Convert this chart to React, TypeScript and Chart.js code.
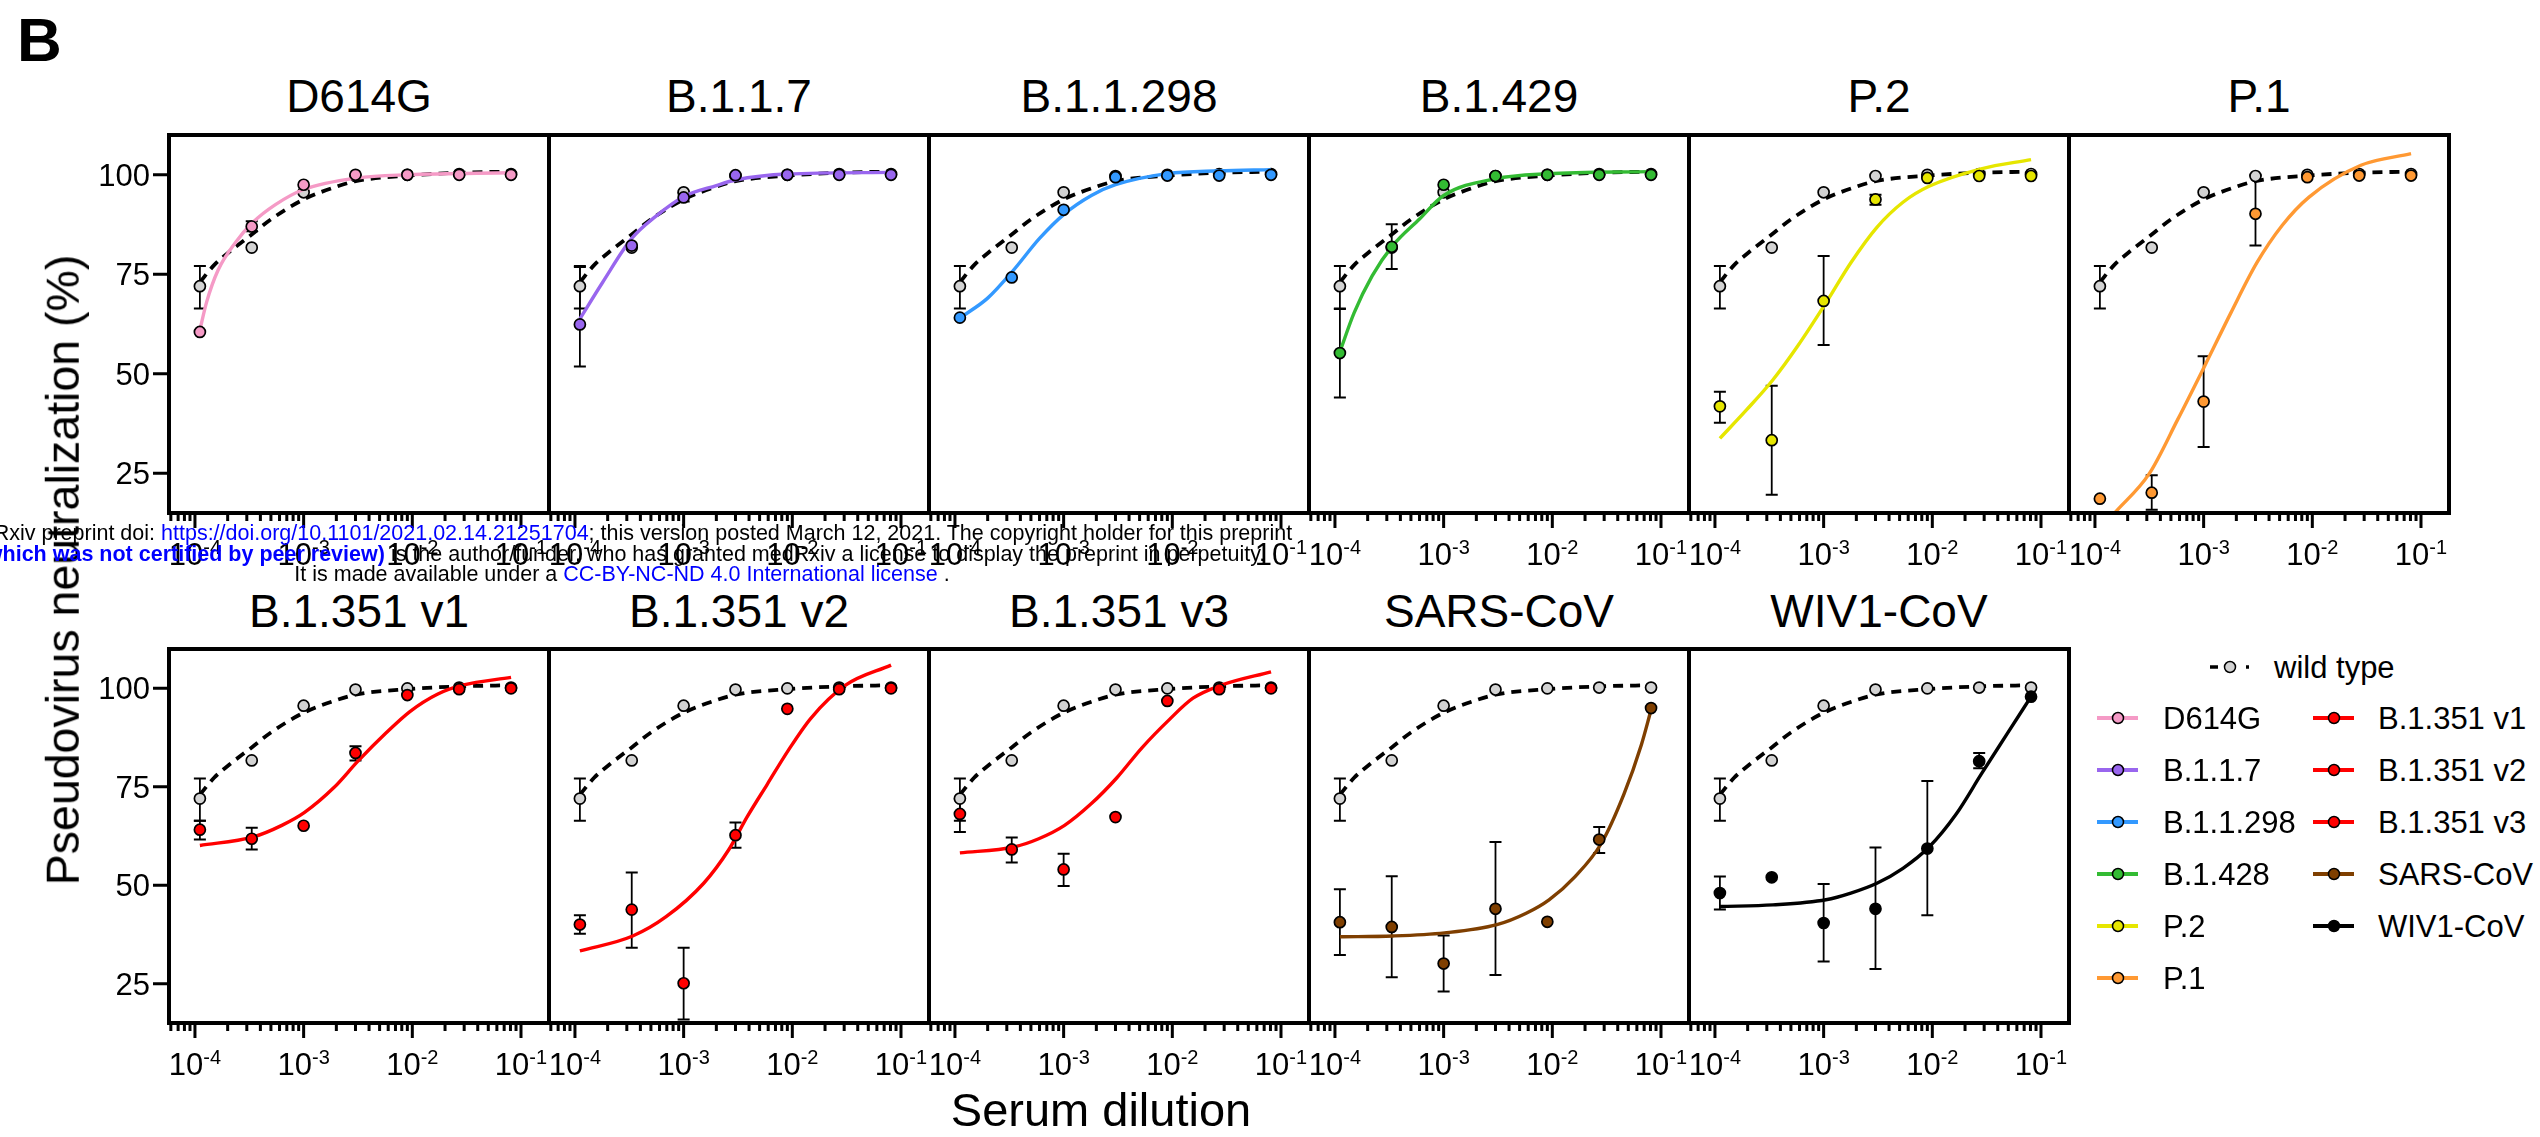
import React, { useEffect, useRef } from 'react';
import { Chart, registerables } from 'chart.js';
Chart.register(...registerables);

const FONT = '"Liberation Sans", Arial, Helvetica, sans-serif';

// ---------------- data ----------------
const dilutions = [1.11e-4, 3.33e-4, 1e-3, 3e-3, 9e-3, 2.7e-2, 8.1e-2];

const wildTypeValues = [72, 81.7, 95.6, 99.7, 100, 100.2, 100.2];
const wildTypeErrLow = [66.4, null, null, null, null, null, null];
const wildTypeErrHigh = [77.1, null, null, null, null, null, null];
const wildTypeFit: [number, number][] = [[1.11e-4, 73], [1.5e-4, 77.3], [2e-4, 80.3], [3.33e-4, 85], [5e-4, 88.8], [1e-3, 93.8], [2e-3, 97], [3e-3, 98.4], [9e-3, 99.8], [2.7e-2, 100.5], [8.1e-2, 100.8]];

const d614gValues = [60.5, 87, 97.5, 100, 100, 100, 100];
const d614gErrLow = [null, 85.8, null, null, null, null, null];
const d614gErrHigh = [null, 88.3, null, null, null, null, null];
const d614gFit: [number, number][] = [[1.11e-4, 61], [1.28e-4, 68], [1.63e-4, 76], [2.36e-4, 83], [3.4e-4, 88], [5.5e-4, 92.5], [1e-3, 96.3], [3.1e-3, 99.2], [9.2e-3, 100], [8.1e-2, 100.5]];

const b117Values = [62.4, 82.2, 94.3, 99.9, 100, 100, 100];
const b117ErrLow = [51.8, null, 93.3, null, null, null, null];
const b117ErrHigh = [76.8, null, 95.5, null, null, null, null];
const b117Fit: [number, number][] = [[1.11e-4, 63.8], [1.8e-4, 73], [3.33e-4, 84], [5.5e-4, 89.5], [1e-3, 94.5], [2e-3, 97.3], [3e-3, 98.7], [9e-3, 100.2], [8.1e-2, 100.6]];

const b11298Values = [64.1, 74.2, 91.2, 99.4, 99.8, 99.8, 100];
const b11298ErrLow = [null, null, null, null, null, null, null];
const b11298ErrHigh = [null, null, null, null, null, null, null];
const b11298Fit: [number, number][] = [[1.11e-4, 64], [2e-4, 69], [3.4e-4, 75.8], [6e-4, 84], [1e-3, 90], [1.8e-3, 94.8], [3e-3, 97.5], [9e-3, 100.3], [2.7e-2, 101], [8.1e-2, 101.3]];

const b1429Values = [55.2, 81.9, 97.5, 99.7, 100, 100, 100];
const b1429ErrLow = [44, 76.3, null, null, null, null, null];
const b1429ErrHigh = [66.3, 87.6, null, null, null, null, null];
const b1429Fit: [number, number][] = [[1.11e-4, 55.5], [1.5e-4, 65.3], [2.2e-4, 74.6], [3.4e-4, 82.2], [6e-4, 88.9], [1e-3, 94.8], [3e-3, 99], [9e-3, 100.25], [8.1e-2, 100.8]];

const p2Values = [41.8, 33.3, 68.3, 93.8, 99.2, 99.7, 99.7];
const p2ErrLow = [37.7, 19.6, 57.2, 92.5, null, null, null];
const p2ErrHigh = [45.5, 47, 79.6, 95, null, null, null];
const p2Fit: [number, number][] = [[1.11e-4, 33.75], [1.95e-4, 40.9], [3.42e-4, 48.5], [5.75e-4, 56.9], [1.05e-3, 67.8], [1.78e-3, 77.9], [3.09e-3, 86.8], [5.37e-3, 93.1], [9.33e-3, 97.1], [2.82e-2, 101.5], [8.1e-2, 103.8]];

const p1Values = [18.6, 20.1, 43, 90.2, 99.4, 99.8, 99.8];
const p1ErrLow = [null, 15.8, 31.6, 82.2, null, null, null];
const p1ErrHigh = [null, 24.5, 54.4, 99.8, null, null, null];
const p1Fit: [number, number][] = [[1.11e-4, 10.5], [1.45e-4, 14.4], [3.16e-4, 24.9], [5.75e-4, 38.4], [1.02e-3, 51.9], [1.78e-3, 65.3], [3.09e-3, 77.9], [5.25e-3, 87.2], [9.33e-3, 94.4], [2.8e-2, 102.4], [8.1e-2, 105.3]];

const b1351v1Values = [64.1, 61.8, 65.1, 83.6, 98.3, 99.8, 100];
const b1351v1ErrLow = [61.6, 59.1, null, 81.7, null, null, null];
const b1351v1ErrHigh = [66.4, 64.6, null, 85.3, null, null, null];
const b1351v1Fit: [number, number][] = [[1.11e-4, 60.1], [3.39e-4, 62.2], [6.3e-4, 65.2], [1.02e-3, 68.5], [1.9e-3, 74.8], [3.16e-3, 81.5], [5.75e-3, 88.7], [9.5e-3, 94.1], [1.7e-2, 98.5], [2.9e-2, 100.8], [8.1e-2, 102.8]];

const b1351v2Values = [40, 43.8, 25.1, 62.7, 94.8, 99.8, 100];
const b1351v2ErrLow = [37.7, 34.1, 15.9, 59.5, null, null, null];
const b1351v2ErrHigh = [42.4, 53.2, 34.1, 65.9, null, null, null];
const b1351v2Fit: [number, number][] = [[1.11e-4, 33.3], [3.4e-4, 37.1], [6.9e-4, 42], [1.53e-3, 50.5], [2.6e-3, 59], [3.85e-3, 67.4], [5.9e-3, 75.7], [9.06e-3, 84], [1.48e-2, 92.4], [3.09e-2, 100.8], [8.1e-2, 105.9]];

const b1351v3Values = [68.1, 59.1, 54, 67.3, 96.8, 99.8, 100];
const b1351v3ErrLow = [63.5, 55.8, 49.8, null, null, null, null];
const b1351v3ErrHigh = [71.9, 62.1, 58, null, null, null, null];
const b1351v3Fit: [number, number][] = [[1.11e-4, 58.2], [3.47e-4, 59.7], [5.9e-4, 61.8], [1.02e-3, 65.2], [1.78e-3, 70.6], [3.09e-3, 77.3], [5.25e-3, 84.9], [9.33e-3, 92], [1.55e-2, 97.5], [2.82e-2, 100.8], [8.1e-2, 104.2]];

const sarsValues = [40.6, 39.4, 30.1, 44, 40.7, 61.6, 95];
const sarsErrLow = [32.3, 26.6, 23, 27.2, null, 58.2, null];
const sarsErrHigh = [49, 52.3, 37.2, 61, null, 64.8, null];
const sarsFit: [number, number][] = [[1.11e-4, 36.9], [3.4e-4, 37.1], [1.02e-3, 37.9], [3.09e-3, 40], [5.75e-3, 42.9], [9.33e-3, 46.3], [1.62e-2, 52.2], [2.82e-2, 60.6], [4.57e-2, 73.2], [6.6e-2, 85.7], [8.1e-2, 94.5]];

const wiv1Values = [48, 52, 40.4, 44, 59.3, 81.5, 97.9];
const wiv1ErrLow = [43.8, null, 30.6, 28.7, 42.4, 79.7, null];
const wiv1ErrHigh = [52.2, null, 50.3, 59.6, 76.5, 83.6, null];
const wiv1Fit: [number, number][] = [[1.11e-4, 44.6], [3.42e-4, 45], [1.05e-3, 46.3], [1.78e-3, 48], [3.09e-3, 50.5], [5.37e-3, 54.3], [9.33e-3, 59.7], [1.66e-2, 68.1], [2.82e-2, 78.2], [4.84e-2, 88.3], [8.1e-2, 97.9]];

// axis ticks
const xMajorTicks = [1e-4, 1e-3, 1e-2, 1e-1];
const xMajorExponents = ['-4', '-3', '-2', '-1'];
const xMinorTicks = [6e-5, 7e-5, 8e-5, 9e-5, 2e-4, 3e-4, 4e-4, 5e-4, 6e-4, 7e-4, 8e-4, 9e-4, 2e-3, 3e-3, 4e-3, 5e-3, 6e-3, 7e-3, 8e-3, 9e-3, 2e-2, 3e-2, 4e-2, 5e-2, 6e-2, 7e-2, 8e-2, 9e-2];
const yTicks = [25, 50, 75, 100];

// colours
const PINK = '#F59AC6';
const PURPLE = '#9966EE';
const BLUE = '#3399FF';
const GREEN = '#33BB33';
const YELLOW = '#E6E600';
const ORANGE = '#FF9933';
const RED = '#FF0000';
const BROWN = '#7F3F00';
const BLACK = '#000000';
const GRAY = '#D3D3D3';

type Panel = { title: string; color: string; values: number[]; errLow: (number | null)[]; errHigh: (number | null)[]; fit: [number, number][] };

const panels: Panel[] = [
  { title: 'D614G', color: PINK, values: d614gValues, errLow: d614gErrLow, errHigh: d614gErrHigh, fit: d614gFit },
  { title: 'B.1.1.7', color: PURPLE, values: b117Values, errLow: b117ErrLow, errHigh: b117ErrHigh, fit: b117Fit },
  { title: 'B.1.1.298', color: BLUE, values: b11298Values, errLow: b11298ErrLow, errHigh: b11298ErrHigh, fit: b11298Fit },
  { title: 'B.1.429', color: GREEN, values: b1429Values, errLow: b1429ErrLow, errHigh: b1429ErrHigh, fit: b1429Fit },
  { title: 'P.2', color: YELLOW, values: p2Values, errLow: p2ErrLow, errHigh: p2ErrHigh, fit: p2Fit },
  { title: 'P.1', color: ORANGE, values: p1Values, errLow: p1ErrLow, errHigh: p1ErrHigh, fit: p1Fit },
  { title: 'B.1.351 v1', color: RED, values: b1351v1Values, errLow: b1351v1ErrLow, errHigh: b1351v1ErrHigh, fit: b1351v1Fit },
  { title: 'B.1.351 v2', color: RED, values: b1351v2Values, errLow: b1351v2ErrLow, errHigh: b1351v2ErrHigh, fit: b1351v2Fit },
  { title: 'B.1.351 v3', color: RED, values: b1351v3Values, errLow: b1351v3ErrLow, errHigh: b1351v3ErrHigh, fit: b1351v3Fit },
  { title: 'SARS-CoV', color: BROWN, values: sarsValues, errLow: sarsErrLow, errHigh: sarsErrHigh, fit: sarsFit },
  { title: 'WIV1-CoV', color: BLACK, values: wiv1Values, errLow: wiv1ErrLow, errHigh: wiv1ErrHigh, fit: wiv1Fit },
];

const legendCol1Labels = ['D614G', 'B.1.1.7', 'B.1.1.298', 'B.1.428', 'P.2', 'P.1'];
const legendCol1Colors = [PINK, PURPLE, BLUE, GREEN, YELLOW, ORANGE];
const legendCol2Labels = ['B.1.351 v1', 'B.1.351 v2', 'B.1.351 v3', 'SARS-CoV', 'WIV1-CoV'];
const legendCol2Colors = [RED, RED, RED, BROWN, BLACK];

// ---------------- layout ----------------
const PANEL_X0 = 169;
const PANEL_W = 380;
const ROW_TOP = [135, 649];
const ROW_BOTTOM = [513, 1023];
const XMIN = 5.77e-5;
const XMAX = 0.181;
const YMIN = 15;
const YMAX = 110;
const PADL = 90, PADR = 45, PADT = 12, PADB = 75;

function PanelChart({ idx }: { idx: number }) {
  const ref = useRef<HTMLCanvasElement>(null);
  const p = panels[idx];
  const row = idx < 6 ? 0 : 1;
  const col = row === 0 ? idx : idx - 6;
  const left = PANEL_X0 + col * PANEL_W;
  const top = ROW_TOP[row];
  const h = ROW_BOTTOM[row] - top;
  const cw = PANEL_W + PADL + PADR;
  const ch = h + PADT + PADB;

  useEffect(() => {
    const canvas = ref.current!;
    const decor = {
      id: 'decor',
      beforeDatasetsDraw(chart: any) {
        const { ctx } = chart;
        const xs = chart.scales.x;
        const ys = chart.scales.y;
        ctx.save();
        ctx.strokeStyle = '#000';
        const drawBar = (xv: number, lo: number, hi: number) => {
          const px = xs.getPixelForValue(xv);
          const p1 = ys.getPixelForValue(lo);
          const p2 = ys.getPixelForValue(hi);
          ctx.lineWidth = 1.8;
          ctx.beginPath();
          ctx.moveTo(px, p1);
          ctx.lineTo(px, p2);
          ctx.stroke();
          ctx.lineWidth = 2;
          ctx.beginPath();
          ctx.moveTo(px - 6, p1);
          ctx.lineTo(px + 6, p1);
          ctx.moveTo(px - 6, p2);
          ctx.lineTo(px + 6, p2);
          ctx.stroke();
        };
        dilutions.forEach((d, i) => {
          const wl = wildTypeErrLow[i], wh = wildTypeErrHigh[i];
          if (wl != null && wh != null) drawBar(d, wl, wh);
          const l = p.errLow[i], hh = p.errHigh[i];
          if (l != null && hh != null) drawBar(d, l, hh);
        });
        ctx.restore();
      },
      afterDatasetsDraw(chart: any) {
        const { ctx, chartArea: a } = chart;
        const xs = chart.scales.x;
        const ys = chart.scales.y;
        ctx.save();
        ctx.strokeStyle = '#000';
        ctx.fillStyle = '#000';
        ctx.lineWidth = 4;
        ctx.strokeRect(a.left, a.top, a.right - a.left, a.bottom - a.top);
        ctx.lineWidth = 3;
        ctx.beginPath();
        xMinorTicks.forEach((v) => {
          const px = xs.getPixelForValue(v);
          ctx.moveTo(px, a.bottom);
          ctx.lineTo(px, a.bottom + 8);
        });
        xMajorTicks.forEach((v) => {
          const px = xs.getPixelForValue(v);
          ctx.moveTo(px, a.bottom);
          ctx.lineTo(px, a.bottom + 15);
        });
        ctx.stroke();
        const baseFont = '31px ' + FONT;
        const supFont = '20px ' + FONT;
        xMajorTicks.forEach((v, i) => {
          const px = xs.getPixelForValue(v);
          ctx.font = baseFont;
          const w1 = ctx.measureText('10').width;
          ctx.font = supFont;
          const w2 = ctx.measureText(xMajorExponents[i]).width;
          const start = px - (w1 + w2) / 2;
          ctx.textAlign = 'left';
          ctx.textBaseline = 'alphabetic';
          ctx.font = baseFont;
          ctx.fillText('10', start, a.bottom + 52);
          ctx.font = supFont;
          ctx.fillText(xMajorExponents[i], start + w1, a.bottom + 41);
        });
        if (col === 0) {
          ctx.lineWidth = 3;
          ctx.beginPath();
          yTicks.forEach((v) => {
            const py = ys.getPixelForValue(v);
            ctx.moveTo(a.left - 16, py);
            ctx.lineTo(a.left, py);
          });
          ctx.stroke();
          ctx.font = baseFont;
          ctx.textAlign = 'right';
          ctx.textBaseline = 'alphabetic';
          yTicks.forEach((v) => {
            const py = ys.getPixelForValue(v);
            ctx.fillText(String(v), a.left - 19, py + 0.358 * 31);
          });
        }
        ctx.restore();
      },
    };

    const chart = new Chart(canvas, {
      type: 'line',
      data: {
        datasets: [
          {
            label: p.title,
            data: dilutions.map((d, i) => ({ x: d, y: p.values[i] })),
            showLine: false,
            pointRadius: 5.5,
            pointBackgroundColor: p.color,
            pointBorderColor: '#000',
            pointBorderWidth: 1.7,
            order: 0,
          },
          {
            label: p.title + ' fit',
            data: p.fit.map(([x, y]) => ({ x, y })),
            borderColor: p.color,
            borderWidth: 3.4,
            pointRadius: 0,
            cubicInterpolationMode: 'monotone',
            capBezierPoints: false,
            fill: false,
            order: 1,
          },
          {
            label: 'wild type',
            data: dilutions.map((d, i) => ({ x: d, y: wildTypeValues[i] })),
            showLine: false,
            pointRadius: 5.5,
            pointBackgroundColor: GRAY,
            pointBorderColor: '#000',
            pointBorderWidth: 1.7,
            order: 2,
          },
          {
            label: 'wild type fit',
            data: wildTypeFit.map(([x, y]) => ({ x, y })),
            borderColor: '#000',
            borderWidth: 3.8,
            borderDash: [10, 7],
            pointRadius: 0,
            cubicInterpolationMode: 'monotone',
            capBezierPoints: false,
            fill: false,
            order: 3,
          },
        ] as any,
      },
      options: {
        responsive: false,
        animation: false,
        devicePixelRatio: 1,
        events: [],
        layout: { padding: { left: PADL, right: PADR, top: PADT, bottom: PADB } },
        scales: {
          x: { type: 'logarithmic', min: XMIN, max: XMAX, display: false },
          y: { type: 'linear', min: YMIN, max: YMAX, display: false },
        },
        plugins: { legend: { display: false }, tooltip: { enabled: false }, title: { display: false } },
      } as any,
      plugins: [decor as any],
    });
    return () => chart.destroy();
  }, []);

  return (
    <canvas
      ref={ref}
      width={cw}
      height={ch}
      style={{ position: 'absolute', left: left - PADL, top: top - PADT, width: cw, height: ch }}
    />
  );
}

function Title({ idx }: { idx: number }) {
  const row = idx < 6 ? 0 : 1;
  const col = row === 0 ? idx : idx - 6;
  const cx = PANEL_X0 + col * PANEL_W + PANEL_W / 2;
  const capCenter = row === 0 ? 95 : 610;
  const fs = 46;
  return (
    <div
      style={{
        position: 'absolute',
        left: cx,
        top: capCenter - 0.4885 * fs,
        transform: 'translateX(-50%)',
        fontSize: fs,
        lineHeight: `${fs}px`,
        whiteSpace: 'nowrap',
        color: '#000',
      }}
    >
      {panels[idx].title}
    </div>
  );
}

function LegendSymbol({ color, cx, cy }: { color: string; cx: number; cy: number }) {
  return (
    <svg style={{ position: 'absolute', left: cx - 22, top: cy - 10 }} width={44} height={20}>
      <line x1={1} y1={10} x2={42} y2={10} stroke={color} strokeWidth={4} />
      <circle cx={22} cy={10} r={5.5} fill={color} stroke="#000" strokeWidth={1.5} />
    </svg>
  );
}

function Legend() {
  const rowsY = [718, 770, 822, 874, 926, 978];
  const fs = 31;
  const text = (s: string, x: number, y: number) => (
    <div
      key={s + x}
      style={{ position: 'absolute', left: x, top: y - 0.4885 * fs, fontSize: fs, lineHeight: `${fs}px`, whiteSpace: 'nowrap' }}
    >
      {s}
    </div>
  );
  return (
    <>
      <svg style={{ position: 'absolute', left: 2205, top: 657 }} width={50} height={20}>
        <line x1={5} y1={10} x2={13} y2={10} stroke="#000" strokeWidth={3.5} />
        <circle cx={25} cy={10} r={5.5} fill={GRAY} stroke="#000" strokeWidth={1.5} />
        <line x1={41} y1={10} x2={44} y2={10} stroke="#000" strokeWidth={3.5} />
      </svg>
      {text('wild type', 2274, 667)}
      {legendCol1Labels.map((s, i) => (
        <React.Fragment key={'l1' + i}>
          <LegendSymbol color={legendCol1Colors[i]} cx={2118} cy={rowsY[i]} />
          {text(s, 2163, rowsY[i])}
        </React.Fragment>
      ))}
      {legendCol2Labels.map((s, i) => (
        <React.Fragment key={'l2' + i}>
          <LegendSymbol color={legendCol2Colors[i]} cx={2334} cy={rowsY[i]} />
          {text(s, 2378, rowsY[i])}
        </React.Fragment>
      ))}
    </>
  );
}

function Watermark() {
  const blue = '#0000FF';
  return (
    <div
      style={{
        position: 'absolute',
        left: 622,
        top: 523,
        transform: 'translateX(-50%)',
        width: 'max-content',
        textAlign: 'center',
        fontSize: 21.5,
        lineHeight: '20.7px',
        whiteSpace: 'pre',
        color: '#000',
        zIndex: 5,
      }}
    >
      <div>
        medRxiv preprint doi: <span style={{ color: blue }}>https://doi.org/10.1101/2021.02.14.21251704</span>; this version posted March 12, 2021. The copyright holder for this preprint
      </div>
      <div>
        <span style={{ color: blue, fontWeight: 'bold' }}>(which was not certified by peer review)</span> is the author/funder, who has granted medRxiv a license to display the preprint in perpetuity.
      </div>
      <div>
        It is made available under a <span style={{ color: blue }}>CC-BY-NC-ND 4.0 International license</span> .
      </div>
    </div>
  );
}

export default function App() {
  return (
    <div
      style={{
        position: 'absolute',
        left: 0,
        top: 0,
        width: 2540,
        height: 1137,
        background: '#fff',
        overflow: 'hidden',
        fontFamily: FONT,
        color: '#000',
      }}
    >
      <div style={{ position: 'absolute', left: 17, top: 9, fontSize: 62, lineHeight: '62px', fontWeight: 'bold' }}>B</div>
      {panels.map((_, i) => (
        <Title key={'t' + i} idx={i} />
      ))}
      {panels.map((_, i) => (
        <PanelChart key={'c' + i} idx={i} />
      ))}
      <div
        style={{
          position: 'absolute',
          left: 63,
          top: 570,
          transform: 'translate(-50%, -50%) rotate(-90deg)',
          fontSize: 46.5,
          lineHeight: '46.5px',
          whiteSpace: 'nowrap',
        }}
      >
        Pseudovirus neutralization (%)
      </div>
      <div
        style={{
          position: 'absolute',
          left: 1101,
          top: 1109 - 0.4885 * 47,
          transform: 'translateX(-50%)',
          fontSize: 47,
          lineHeight: '47px',
          whiteSpace: 'nowrap',
        }}
      >
        Serum dilution
      </div>
      <Legend />
      <Watermark />
    </div>
  );
}
